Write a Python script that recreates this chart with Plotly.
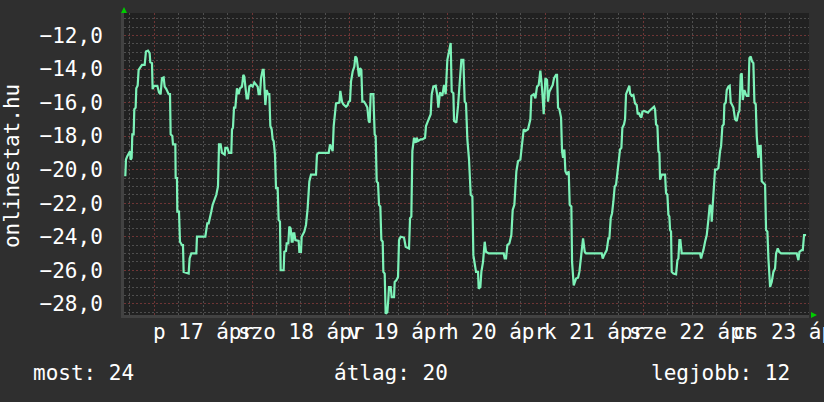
import pandas as pd
import plotly.graph_objects as go

# hours relative to Fri 17 Apr 00:00, and the plotted value
hours = [-7.12,-6.96,-6.63,-6.22,-5.97,-5.81,-5.56,-5.40,-5.07,-4.91,-4.58,-4.42,-4.09,-3.85,-3.52,-3.03,-2.37,-2.05,-1.55,-1.15,-0.98,-0.57,-0.41,-0.08,0.74,1.15,1.55,1.88,2.29,2.54,2.95,3.52,3.85,4.01,4.42,4.58,5.16,5.24,5.56,5.65,6.06,6.30,6.79,7.04,7.20,7.86,8.43,8.67,9.08,10.31,10.47,12.52,13.01,13.34,13.58,13.99,14.32,14.81,15.22,15.63,15.88,16.28,16.61,17.27,17.43,17.92,18.33,18.90,19.07,19.31,19.56,19.89,20.13,
 20.29,20.70,21.03,21.52,21.85,22.09,22.34,22.67,23.0,23.32,23.73,24.14,24.55,24.96,25.37,25.61,25.94,26.19,26.60,26.84,27.0,27.25,27.58,27.91,28.23,28.48,28.81,29.05,29.30,29.62,29.87,30.28,30.52,30.85,31.01,31.75,31.91,32.32,32.49,32.90,33.14,33.47,33.72,33.96,34.12,34.37,34.62,35.43,35.60,36.0,36.17,36.82,37.23,37.64,38.05,38.46,39.69,39.93,40.34,42.80,43.13,43.54,43.78,44.03,44.44,44.60,45.42,45.66,46.07,46.40,47.05,47.46,47.71,48.04,48.28,48.69,49.10,49.35,49.67,
 50.0,50.25,50.49,50.82,51.06,51.47,51.88,52.29,52.62,52.86,53.11,53.76,54.09,54.34,54.58,54.91,55.16,55.48,55.73,56.06,56.22,56.55,56.79,57.20,57.45,57.61,58.02,58.27,58.84,59.0,59.41,59.82,60.07,60.47,61.29,61.70,62.52,62.77,63.09,63.34,63.75,64.16,64.40,64.73,65.38,65.79,66.45,66.69,67.02,67.43,67.84,68.09,68.49,69.07,69.48,69.72,70.13,70.70,71.11,71.52,71.93,72.34,72.75,73.0,73.41,73.57,74.14,74.55,75.04,75.37,75.86,76.19,76.51,76.84,77.25,77.66,78.07,78.31,78.64,
 78.97,79.46,79.62,80.03,80.28,80.69,81.10,81.42,82.08,85.76,86.01,86.33,86.66,87.15,87.64,87.97,88.38,88.87,89.28,89.85,90.26,90.67,91.08,91.73,92.31,92.55,93.13,93.54,93.94,94.35,94.76,95.17,95.58,95.99,96.40,96.64,96.97,97.38,97.79,98.12,98.61,98.85,99.10,99.43,99.84,100.08,100.33,100.65,100.90,101.31,101.72,101.96,102.37,102.54,102.95,103.52,104.01,104.34,104.75,105.24,105.65,105.97,
 109.82,110.07,110.39,111.05,111.46,111.70,112.03,112.36,112.68,113.01,113.34,113.67,113.99,114.32,114.65,114.89,115.30,115.55,115.79,116.12,116.45,116.61,116.78,117.18,117.59,118.0,118.41,118.66,118.99,119.23,119.56,119.80,120.21,120.70,121.19,121.52,122.09,122.67,122.91,123.16,123.49,123.73,123.98,124.14,124.55,124.96,125.37,125.61,125.94,126.19,126.43,126.60,126.84,127.0,127.41,128.07,128.40,128.64,128.89,129.13,129.46,133.96,134.21,134.53,134.78,135.19,135.60,
 136.0,136.33,136.66,136.82,137.07,137.32,137.64,138.05,138.46,138.87,139.12,139.44,139.77,139.93,140.26,140.51,140.92,141.24,141.49,141.74,142.14,142.55,142.96,143.37,143.62,143.94,144.19,144.44,144.84,145.17,145.42,145.83,146.07,146.40,146.73,147.05,147.30,147.63,147.87,148.28,148.53,148.85,149.10,149.51,149.92,150.16,150.49,150.74,151.15,151.55,151.96,152.37,152.62,153.03,153.36,153.85,157.69,158.10,158.35,158.92,159.17,159.49,159.98]

values = [-20.4,-19.4,-19.2,-19.0,-18.9,-19.4,-19.3,-17.9,-17.9,-16.4,-16.3,-15.15,-15.0,-14.05,-13.9,-13.75,-13.75,-12.95,-12.9,-13.05,-13.6,-13.65,-15.2,-15.0,-15.0,-15.4,-15.5,-14.55,-14.5,-15.05,-15.2,-15.5,-15.5,-17.9,-18.0,-18.5,-18.5,-20.5,-20.5,-22.5,-22.5,-24.3,-24.5,-24.5,-26.1,-26.15,-26.2,-25.3,-25.0,-25.0,-24.0,-24.0,-23.2,-23.2,-23.0,-22.5,-22.1,-21.7,-21.5,-21.0,-18.5,-18.5,-19.0,-19.1,-18.7,-18.7,-19.0,-19.0,-17.6,-17.5,-16.3,-16.3,-15.15,
 -15.15,-15.5,-15.15,-15.05,-14.35,-14.45,-15.05,-15.75,-15.75,-15.05,-14.95,-15.05,-14.8,-14.9,-15.05,-15.5,-15.5,-14.55,-14.05,-14.05,-14.95,-16.15,-15.25,-15.5,-15.5,-17.4,-17.6,-18.2,-18.3,-19.1,-21.1,-21.1,-23.0,-23.1,-26.0,-26.0,-24.9,-24.85,-24.4,-24.4,-23.4,-23.5,-24.3,-24.3,-23.8,-23.8,-24.2,-24.25,-24.9,-24.9,-24.0,-23.7,-23.3,-22.3,-20.7,-20.3,-20.3,-19.1,-19.0,-19.0,-18.5,-18.8,-18.9,-17.4,-16.15,-16.05,-16.0,-15.3,-15.95,-16.1,-16.25,-16.15,-15.95,-15.9,-14.75,-14.15,-13.85,-13.25,-13.35,
 -14.05,-14.45,-13.95,-14.05,-15.95,-15.95,-16.1,-16.3,-17.1,-17.2,-15.5,-15.5,-17.9,-18.0,-20.7,-20.8,-22.1,-22.2,-24.2,-24.3,-26.1,-26.2,-28.6,-28.5,-27.7,-27.0,-27.0,-27.6,-27.6,-26.7,-26.6,-26.4,-24.2,-24.0,-24.05,-24.6,-24.7,-22.9,-22.8,-18.9,-18.1,-18.4,-18.1,-18.3,-18.2,-18.2,-18.1,-17.4,-17.2,-16.9,-16.7,-15.5,-15.05,-15.0,-15.6,-16.3,-15.4,-15.6,-14.95,-15.5,-13.45,-12.95,-12.45,-15.35,-15.45,-17.1,-17.2,-16.2,-14.45,-13.45,-13.45,-15.95,-16.05,-18.2,-19.4,-21.5,-21.6,-25.1,-25.6,
 -26.1,-26.1,-27.1,-27.0,-26.1,-25.5,-24.3,-24.9,-25.0,-25.0,-25.3,-25.3,-24.5,-24.4,-23.9,-22.4,-22.1,-20.1,-19.5,-19.4,-18.3,-17.6,-17.7,-17.6,-17.0,-15.6,-15.5,-15.75,-15.05,-14.95,-14.1,-15.15,-16.7,-14.55,-14.65,-15.95,-15.35,-15.15,-14.95,-14.55,-14.35,-14.35,-16.3,-16.4,-16.9,-18.9,-19.3,-18.8,-20.1,-20.3,-20.1,-22.1,-22.2,-25.5,-26.9,-26.5,-26.45,-26.1,-25.0,-24.1,-24.9,-25.0,
 -25.0,-25.3,-25.1,-24.8,-24.1,-24.1,-22.9,-22.6,-21.9,-21.0,-20.9,-20.2,-19.5,-18.8,-18.7,-17.5,-17.3,-17.0,-15.5,-15.3,-15.0,-15.0,-15.45,-15.6,-15.55,-16.05,-16.15,-16.7,-16.6,-16.8,-16.9,-16.55,-16.5,-16.55,-16.6,-16.5,-16.4,-16.25,-16.4,-17.3,-17.4,-18.9,-19.0,-20.6,-20.3,-20.3,-20.3,-21.4,-21.5,-22.7,-22.8,-23.6,-23.7,-26.1,-26.2,-26.25,-25.4,-25.3,-24.2,-24.2,-25.0,-25.0,-25.3,-25.0,-24.8,-24.3,-23.9,
 -23.0,-22.1,-22.2,-23.1,-22.1,-21.1,-20.0,-20.0,-19.9,-18.9,-18.6,-17.4,-17.3,-16.1,-16.0,-15.25,-15.05,-15.0,-16.0,-16.1,-16.3,-17.0,-17.1,-16.6,-16.5,-14.35,-14.25,-15.85,-15.25,-15.5,-15.6,-15.6,-13.35,-13.25,-13.55,-13.65,-16.0,-16.1,-18.0,-19.3,-18.6,-18.6,-20.7,-20.8,-20.9,-23.6,-23.7,-25.3,-27.0,-26.7,-26.1,-25.9,-25.0,-24.7,-24.9,-25.0,-25.0,-25.4,-24.9,-24.8,-24.8,-23.9,-23.9]

day_noons = ["2009-04-17 12:00", "2009-04-18 12:00", "2009-04-19 12:00", "2009-04-20 12:00",
             "2009-04-21 12:00", "2009-04-22 12:00", "2009-04-23 12:00"]
day_labels = ["p 17 ápr", "szo 18 ápr", "v 19 ápr", "h 20 ápr", "k 21 ápr", "sze 22 ápr", "cs 23 ápr"]

y_title = "onlinestat.hu"
stat_labels = ["most: 24", "átlag: 20", "legjobb: 12"]

base = pd.Timestamp("2009-04-17 00:00")
times = [base + pd.Timedelta(hours=h) for h in hours]
x_start = base + pd.Timedelta(hours=-7.44)
x_end = base + pd.Timedelta(hours=160.7)

FONT = "DejaVu Sans Mono"
BG = "#2f2f2f"
PLOT_BG = "#212121"
LINE = "#7df2b8"
GRID_MINOR = "#4e4e4e"
GRID_MAJOR = "#6e3535"
DASH = "2px,2px"

fig = go.Figure()
fig.add_trace(go.Scatter(x=times, y=values, mode="lines",
                         line=dict(color=LINE, width=2.2), hoverinfo="skip"))

fig.update_layout(
    width=824, height=402,
    margin=dict(l=124, r=15, t=13, b=87),
    paper_bgcolor=BG, plot_bgcolor=PLOT_BG,
    showlegend=False,
    separators=",.",
    font=dict(family=FONT, color="#ffffff", size=21),
)
fig.update_xaxes(
    type="date", range=[x_start, x_end],
    tick0="2009-04-17", dtick=86400000,
    showgrid=True, gridcolor=GRID_MAJOR, griddash=DASH, gridwidth=1,
    minor=dict(dtick=21600000, showgrid=True, gridcolor=GRID_MINOR, griddash=DASH, gridwidth=1),
    showticklabels=False, ticks="", zeroline=False,
    showline=True, linecolor="#424242", linewidth=3,
)
fig.update_yaxes(
    range=[-28.67, -10.66],
    tickmode="linear", tick0=-12, dtick=2, tickformat=".1f",
    showgrid=True, gridcolor=GRID_MAJOR, griddash=DASH, gridwidth=1,
    minor=dict(dtick=0.5, showgrid=True, gridcolor=GRID_MINOR, griddash=DASH, gridwidth=1),
    ticks="", ticklabelstandoff=14, zeroline=False,
    tickfont=dict(family=FONT, size=21, color="#ffffff"),
    showline=True, linecolor="#424242", linewidth=3,
)

for xv, txt in zip(day_noons, day_labels):
    fig.add_annotation(x=xv, xref="x", y=-0.0563, yref="paper", text=txt,
                       showarrow=False, xanchor="center", yanchor="middle",
                       font=dict(family=FONT, size=21, color="#ffffff"))

fig.add_annotation(x=-0.1635, xref="paper", y=0.493, yref="paper", text=y_title,
                   textangle=-90, showarrow=False, xanchor="center", yanchor="middle",
                   font=dict(family=FONT, size=21, color="#ffffff"))

for xp, txt in zip([-0.0584, 0.3905, 0.8715], stat_labels):
    fig.add_annotation(x=xp, xref="paper", y=-0.192, yref="paper", text=txt,
                       showarrow=False, xanchor="center", yanchor="middle",
                       font=dict(family=FONT, size=21, color="#ffffff"))

# green axis arrows
fig.add_shape(type="path", xref="paper", yref="paper",
              path="M -0.0044 1.0 L 0.0044 1.0 L 0 1.0199 Z",
              fillcolor="#00cc00", line=dict(width=0))
fig.add_shape(type="path", xref="paper", yref="paper",
              path="M 1.0029 0.0099 L 1.0029 -0.0099 L 1.0117 0 Z",
              fillcolor="#00cc00", line=dict(width=0))

fig.write_html("out.html",
               config={"displayModeBar": False, "staticPlot": True},
               post_script="document.body.style.margin='0';document.body.style.background='#2f2f2f';document.body.style.overflow='hidden';")
